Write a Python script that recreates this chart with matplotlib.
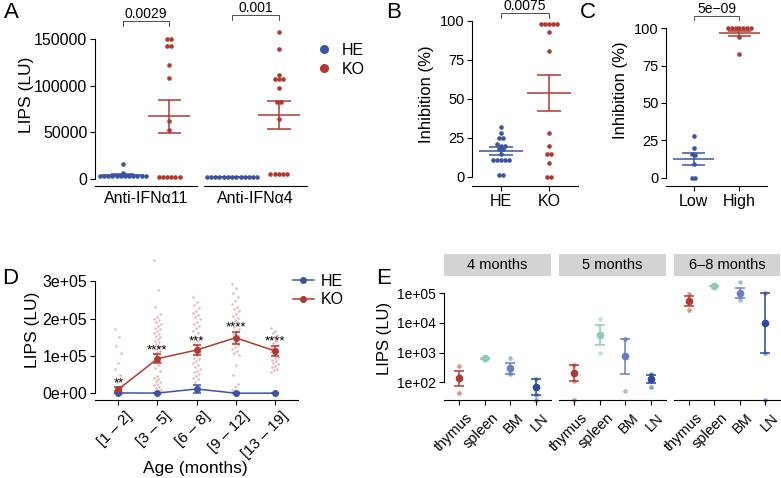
import numpy as np
import matplotlib
matplotlib.use("Agg")
import matplotlib.pyplot as plt
import matplotlib.transforms as mtrans
from matplotlib.lines import Line2D
from matplotlib.ticker import FixedLocator, FixedFormatter, NullLocator

plt.rcParams['font.family'] = ['Liberation Sans', 'DejaVu Sans']

BLUE = '#3B55A3'
RED = '#B03A32'

# ---------------- A: LIPS per antigen
a_facets = ['Anti-IFNα11', 'Anti-IFNα4']
a_groups = ['HE', 'KO']
a_he_11 = [3000, 3000, 3000, 3000, 3000, 3000, 3000, 3000, 3000, 3000, 3000, 3000, 6700, 15700]
a_ko_11 = [150500, 150500, 143000, 143000, 122000, 108000, 62000, 53000,
           1800, 1800, 1800, 1800, 1800, 1800]
a_he_4 = [2500, 2500, 2500, 2500, 2500, 2500, 2500, 2500, 2500, 2500, 2500, 2500, 2500]
a_ko_4 = [157000, 139000, 111000, 107000, 107000, 107000, 98000, 83000, 83000, 64000,
          5000, 5000, 5000, 5000, 5000]
a_mean = [[3800, 67000], [2500, 69000]]
a_sem = [[1100, 17500], [0, 15000]]
a_pval = ['0.0029', '0.001']

# ---------------- B: inhibition HE vs KO
b_groups = ['HE', 'KO']
b_he = [32, 28, 25, 25, 21, 20, 20, 18, 18, 15, 11, 11, 11, 11, 11, 1, 1]
b_ko = [98, 98, 98, 98, 98, 93, 81, 28, 20, 15, 15, 9, 0, 0]
b_mean = [16.7, 54]
b_sem = [2.7, 11.5]
b_pval = '0.0075'

# ---------------- C: inhibition Low vs High
c_groups = ['Low', 'High']
c_low = [28, 20, 16, 15, 9, 0, 0]
c_high = [100, 100, 100, 100, 100, 100, 100, 94, 83]
c_mean = [12.7, 96.6]
c_sem = [3.9, 1.8]
c_pval = '5e\u221209'

# ---------------- D: LIPS by age
d_ages = ['[1 \u2013 2]', '[3 \u2013 5]', '[6 \u2013 8]', '[9 \u2013 12]', '[13 \u2013 19]']
d_he_mean = [1000, 500, 11500, 300, 300]
d_he_sem = [800, 400, 11500, 200, 200]
d_ko_mean = [10700, 92800, 116000, 149000, 114000]
d_ko_sem = [5800, 11700, 13400, 16500, 13000]
d_stars = ['**', '****', '***', '****', '****']
d_ko_1_2 = [172000, 152000, 128000, 108000, 80000, 66000, 48000, 30000, 20000, 14000,
            9000, 6000, 4000, 3000, 2000, 1500, 1000, 800, 500, 300, 200, 100]
d_ko_3_5 = [357000, 277000, 232000, 212000, 205000, 200000, 196000, 190000, 185000, 181000,
            176000, 172000, 168000, 163000, 158000, 154000, 150000, 146000, 141000, 137000,
            133000, 128000, 124000, 119000, 114000, 110000, 105000, 100000, 92000, 85000,
            76000, 68000, 60000, 47000, 42000, 38000, 34000, 30000, 26000, 22000,
            18000, 14000, 10000, 7000, 4000, 2000]
d_ko_6_8 = [259000, 245000, 236000, 228000, 222000, 216000, 210000, 204000, 198000, 192000,
            186000, 180000, 174000, 168000, 162000, 155000, 148000, 140000, 132000, 125000,
            118000, 110000, 102000, 96000, 91000, 86000, 81000, 76000, 71000, 66000,
            61000, 56000, 51000, 46000, 42000, 38000, 30000, 20000]
d_ko_9_12 = [293000, 282000, 270000, 258000, 248000, 240000, 232000, 226000, 220000, 214000,
             208000, 202000, 196000, 190000, 184000, 178000, 172000, 166000, 160000, 155000,
             150000, 145000, 140000, 135000, 130000, 125000, 120000, 114000, 108000, 102000,
             76000, 49000, 26000, 17000, 8000]
d_ko_13_19 = [175000, 168000, 162000, 156000, 150000, 145000, 140000, 135000, 130000, 126000,
              122000, 118000, 114000, 110000, 106000, 102000, 98000, 94000, 90000, 86000,
              82000, 78000, 74000, 70000, 66000, 62000, 58000]

# ---------------- E: tissues by age (0 = below detection, drawn at panel floor)
e_ages = ['4 months', '5 months', '6\u20138 months']
e_tissues = ['thymus', 'spleen', 'BM', 'LN']
e_colors = [RED, '#8FCBB4', '#6A7EC2', '#2D4A9B']
e_4m = [[354, 158, 45], [700, 645, 600], [660, 204, 190], [126, 36, 0]]
e_5m = [[380, 110, 0], [13500, 4400, 1000], [2800, 2950, 51], [186, 174, 71]]
e_68m = [[95000, 62000, 28000], [185000, 175000, 165000], [230000, 80000, 60000], [105000, 1000, 0]]

W, H = 781, 478
fig = plt.figure(figsize=(W / 100, H / 100), dpi=100)


def px_axes(x0, y0, x1, y1):
    return fig.add_axes([x0 / W, 1 - y1 / H, (x1 - x0) / W, (y1 - y0) / H])


def style(ax, fs):
    ax.spines['top'].set_visible(False)
    ax.spines['right'].set_visible(False)
    ax.spines['left'].set_linewidth(0.8)
    ax.spines['bottom'].set_linewidth(0.8)
    ax.tick_params(length=3.5, width=0.8, labelsize=fs, pad=2)
    ax.patch.set_alpha(0)


def swarm_x(vals, center, ybin, dx):
    vals = np.asarray(vals, float)
    xs = np.full(len(vals), float(center))
    bins = np.round(vals / ybin)
    for b in np.unique(bins):
        idx = np.where(bins == b)[0]
        k = len(idx)
        xs[idx] = center + (np.arange(k) - (k - 1) / 2) * dx
    return xs


def mean_se(ax, x, m, se, color):
    ax.hlines(m, x - 0.45, x + 0.45, color=color, lw=1.1, zorder=4)
    ax.vlines(x, m - se, m + se, color=color, lw=1.1, zorder=4)
    ax.hlines([m - se, m + se], x - 0.25, x + 0.25, color=color, lw=1.1, zorder=4)


def bracket(ax, x1, x2, y, h, label, fs):
    ax.plot([x1, x1, x2, x2], [y - h, y, y, y - h], color='#333333', lw=0.6, clip_on=False)
    ax.text((x1 + x2) / 2, y, label, ha='center', va='bottom', fontsize=fs, clip_on=False)


def vlabel(x, y, s, fs):
    fig.text(x / W, 1 - y / H, s, rotation=90, ha='center', va='center', fontsize=fs)


def letter(x, y, s):
    fig.text(x / W, 1 - y / H, s, ha='left', va='top', fontsize=16)


def shift_labels(ax, dx_px, dy_px):
    off = mtrans.ScaledTranslation(dx_px / 100, -dy_px / 100, fig.dpi_scale_trans)
    for lab in ax.get_xticklabels():
        lab.set_transform(lab.get_transform() + off)


# ================= Panel A
a_data = [[a_he_11, a_ko_11], [a_he_4, a_ko_4]]
for k, (x0, x1) in enumerate([(95, 197), (204, 307)]):
    ax = px_axes(x0, 5, x1, 186)
    style(ax, 11.5)
    ax.set_xlim(0.4, 2.6)
    ax.set_ylim(-7500, 186400)
    for g, col in enumerate([BLUE, RED]):
        vals = a_data[k][g]
        ax.scatter(swarm_x(vals, g + 1, 4000, 0.09), vals, s=11, color=col, lw=0, zorder=3)
        mean_se(ax, g + 1, a_mean[k][g], a_sem[k][g], col)
    top = max(max(a_data[k][0]), max(a_data[k][1])) + 19000
    bracket(ax, 1, 2, top, 5500, a_pval[k], 10)
    ax.set_xticks([])
    ax.text(1.5, -0.03, a_facets[k], transform=ax.get_xaxis_transform(),
            ha='center', va='top', fontsize=11.5)
    if k == 0:
        ax.set_yticks([0, 50000, 100000, 150000])
        ax.spines['left'].set_bounds(0, 150000)
    else:
        ax.spines['left'].set_visible(False)
        ax.set_yticks([])
vlabel(26, 95, 'LIPS (LU)', 12.5)
fig.legend(handles=[Line2D([], [], marker='o', ls='', color=BLUE, markersize=5.5),
                    Line2D([], [], marker='o', ls='', color=RED, markersize=5.5)],
           labels=a_groups, loc='upper left', bbox_to_anchor=(316 / W, 1 - 43 / H),
           frameon=False, fontsize=11.5, handlelength=1.0, handletextpad=0.6,
           labelspacing=0.25, borderpad=0, borderaxespad=0)
letter(4, 2, 'A')

# ================= Panel B
ax = px_axes(472, 3, 578, 186)
style(ax, 10.5)
ax.set_xlim(0.4, 2.6)
ax.set_ylim(-5.77, 111.5)
for g, (vals, col) in enumerate([(b_he, BLUE), (b_ko, RED)]):
    ax.scatter(swarm_x(vals, g + 1, 2.6, 0.085), vals, s=11, color=col, lw=0, zorder=3)
    mean_se(ax, g + 1, b_mean[g], b_sem[g], col)
bracket(ax, 1, 2, max(b_ko) + 7.2, 3.2, b_pval, 10)
ax.set_xticks([1, 2])
ax.set_xticklabels(b_groups, fontsize=11.5)
ax.set_yticks([0, 25, 50, 75, 100])
ax.spines['left'].set_bounds(0, 100)
vlabel(427, 94, 'Inhibition (%)', 12)
letter(386, 2, 'B')

# ================= Panel C
ax = px_axes(666, 3, 767, 186)
style(ax, 10.5)
ax.set_xlim(0.4, 2.6)
ax.set_ylim(-5.56, 116.9)
for g, (vals, col) in enumerate([(c_low, BLUE), (c_high, RED)]):
    ax.scatter(swarm_x(vals, g + 1, 2.7, 0.085), vals, s=11, color=col, lw=0, zorder=3)
    mean_se(ax, g + 1, c_mean[g], c_sem[g], col)
bracket(ax, 1, 2, max(c_high) + 8.4, 2.9, c_pval, 10)
ax.set_xticks([1, 2])
ax.set_xticklabels(c_groups, fontsize=11.5)
ax.set_yticks([0, 25, 50, 75, 100])
ax.spines['left'].set_bounds(0, 100)
vlabel(620, 90, 'Inhibition (%)', 12)
letter(580, 2, 'C')

# ================= Panel D
ax = px_axes(95, 255, 298, 400)
style(ax, 11.5)
ax.set_xlim(0.4, 5.6)
ax.set_ylim(-18000, 371000)
xpos = np.arange(1, len(d_ages) + 1)
d_points = [d_ko_1_2, d_ko_3_5, d_ko_6_8, d_ko_9_12, d_ko_13_19]
for i, pts in enumerate(d_points):
    n = len(pts)
    jit = ((np.arange(n) * 0.618034) % 1 - 0.5) * 0.2
    ax.scatter(xpos[i] + jit, pts, s=3.5, color=RED, alpha=0.35, lw=0, zorder=1)
for mean, sem, col in [(d_he_mean, d_he_sem, BLUE), (d_ko_mean, d_ko_sem, RED)]:
    ax.errorbar(xpos, mean, yerr=sem, color=col, lw=1.1, marker='o', markersize=4,
                capsize=3.2, capthick=1.1, elinewidth=1.1, zorder=3)
for i, s in enumerate(d_stars):
    ax.text(xpos[i], d_ko_mean[i] + d_ko_sem[i] + 3000, s, ha='center', va='baseline', fontsize=9.5)
ax.set_xticks(xpos)
ax.set_xticklabels(d_ages, rotation=45, ha='right', va='top', rotation_mode='anchor', fontsize=11)
shift_labels(ax, 7, 1)
ax.set_yticks([0, 100000, 200000, 300000])
ax.set_yticklabels(['0e+00', '1e+05', '2e+05', '3e+05'])
ax.spines['left'].set_bounds(0, 300000)
fig.text(195 / W, 1 - 469 / H, 'Age (months)', ha='center', va='center', fontsize=12.5)
vlabel(33, 330, 'LIPS (LU)', 12.5)
fig.legend(handles=[Line2D([], [], color=BLUE, lw=1.1, marker='o', markersize=4),
                    Line2D([], [], color=RED, lw=1.1, marker='o', markersize=4)],
           labels=['HE', 'KO'], loc='upper left', bbox_to_anchor=(293 / W, 1 - 274 / H),
           frameon=False, fontsize=11.5, handlelength=1.3, handletextpad=0.45,
           labelspacing=0.2, borderpad=0, borderaxespad=0)
letter(2, 268, 'D')

# ================= Panel E
e_data = [e_4m, e_5m, e_68m]
ylo, yhi = 10 ** 1.404, 10 ** 5.58
for k, (x0, x1) in enumerate([(444, 551), (559, 666), (674, 780)]):
    strip = px_axes(x0, 254, x1, 276)
    strip.set_facecolor('#D3D3D3')
    strip.set_xticks([])
    strip.set_yticks([])
    for sp in strip.spines.values():
        sp.set_visible(False)
    strip.text(0.5, 0.5, e_ages[k], ha='center', va='center', fontsize=10.5, transform=strip.transAxes)

    ax = px_axes(x0, 276, x1, 400)
    style(ax, 10)
    ax.set_yscale('log')
    ax.set_ylim(ylo, yhi)
    ax.set_xlim(0.4, 4.6)
    for i, vals in enumerate(e_data[k]):
        v = np.asarray(vals, float)
        pos = v > 0
        col = e_colors[i]
        ax.scatter(np.full(pos.sum(), i + 1), v[pos], s=11, color=col, alpha=0.55, lw=0, zorder=2)
        if (~pos).any():
            ax.scatter(np.full((~pos).sum(), i + 1), np.full((~pos).sum(), ylo), s=11, color=col,
                       alpha=0.55, lw=0, zorder=2, clip_on=False)
        lg = np.log10(v[pos])
        m = lg.mean()
        se = lg.std(ddof=1) / np.sqrt(len(lg))
        ax.errorbar([i + 1], [10 ** m], yerr=[[10 ** m - 10 ** (m - se)], [10 ** (m + se) - 10 ** m]],
                    color=col, marker='o', markersize=4.5, capsize=3.8, capthick=1.1,
                    elinewidth=1.1, ls='', zorder=3, clip_on=False)
    ax.set_xticks(np.arange(1, 5))
    ax.set_xticklabels(e_tissues, rotation=45, ha='right', va='top', rotation_mode='anchor', fontsize=10.5)
    shift_labels(ax, 6, 3)
    ax.yaxis.set_minor_locator(NullLocator())
    if k == 0:
        ax.yaxis.set_major_locator(FixedLocator([1e2, 1e3, 1e4, 1e5]))
        ax.yaxis.set_major_formatter(FixedFormatter(['1e+02', '1e+03', '1e+04', '1e+05']))
        ax.spines['left'].set_bounds(1e2, 1e5)
    else:
        ax.spines['left'].set_visible(False)
        ax.yaxis.set_major_locator(NullLocator())
vlabel(385, 338, 'LIPS (LU)', 12)
letter(376, 268, 'E')

fig.savefig('out.png', dpi=100)
